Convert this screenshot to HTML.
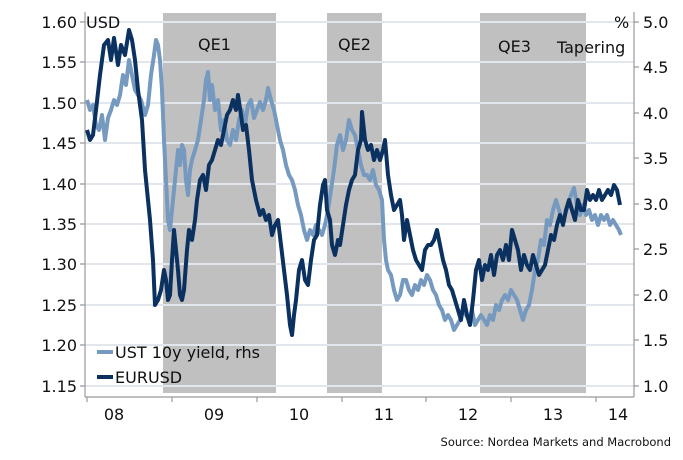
<!DOCTYPE html>
<html><head><meta charset="utf-8"><style>
body{margin:0;background:#fff}
svg{display:block;font-family:"DejaVu Sans","Liberation Sans",sans-serif}
</style></head><body>
<svg width="683" height="460" viewBox="0 0 683 460" xmlns="http://www.w3.org/2000/svg">
<rect x="163" y="13" width="113" height="380" fill="#c0c0c0"/>
<rect x="327" y="13" width="55" height="380" fill="#c0c0c0"/>
<rect x="480" y="13" width="106" height="380" fill="#c0c0c0"/>
<g stroke="#e2e7ee" stroke-width="2">
<line x1="85" x2="634" y1="22" y2="22"/><line x1="85" x2="634" y1="62" y2="62"/><line x1="85" x2="634" y1="103" y2="103"/><line x1="85" x2="634" y1="143" y2="143"/><line x1="85" x2="634" y1="184" y2="184"/><line x1="85" x2="634" y1="224" y2="224"/><line x1="85" x2="634" y1="264" y2="264"/><line x1="85" x2="634" y1="305" y2="305"/><line x1="85" x2="634" y1="345" y2="345"/><line x1="85" x2="634" y1="386" y2="386"/>
</g>
<g stroke="#999" stroke-width="1.2" fill="none">
<line x1="85" y1="12" x2="85" y2="397"/><line x1="634" y1="12" x2="634" y2="397"/><line x1="85" y1="397" x2="634" y2="397"/>
<path d="M80 22h5M80 62h5M80 103h5M80 143h5M80 184h5M80 224h5M80 264h5M80 305h5M80 345h5M80 386h5"/>
<path d="M634 22h5M634 67h5M634 113h5M634 158h5M634 204h5M634 249h5M634 295h5M634 340h5M634 386h5"/>
<path d="M87 397v5M172 397v5M257 397v5M342 397v5M426 397v5M511 397v5M596 397v5"/>
</g>
<g font-size="16" fill="#111" text-anchor="end">
<text x="77" y="28">1.60</text><text x="77" y="68">1.55</text><text x="77" y="109">1.50</text><text x="77" y="149">1.45</text><text x="77" y="190">1.40</text><text x="77" y="230">1.35</text><text x="77" y="270">1.30</text><text x="77" y="311">1.25</text><text x="77" y="351">1.20</text><text x="77" y="392">1.15</text>
</g>
<g font-size="16" fill="#111">
<text x="643" y="28">5.0</text><text x="643" y="73">4.5</text><text x="643" y="119">4.0</text><text x="643" y="164">3.5</text><text x="643" y="210">3.0</text><text x="643" y="255">2.5</text><text x="643" y="301">2.0</text><text x="643" y="346">1.5</text><text x="643" y="392">1.0</text>
<text x="86" y="28">USD</text><text x="614" y="28">%</text>
<text x="198" y="50">QE1</text><text x="338" y="50">QE2</text><text x="498" y="52">QE3</text><text x="557" y="53">Tapering</text>
<text x="114" y="420" text-anchor="middle">08</text><text x="214" y="420" text-anchor="middle">09</text><text x="299" y="420" text-anchor="middle">10</text><text x="384" y="420" text-anchor="middle">11</text><text x="468" y="420" text-anchor="middle">12</text><text x="553" y="420" text-anchor="middle">13</text><text x="618" y="420" text-anchor="middle">14</text>
<text x="115" y="358">UST 10y yield, rhs</text><text x="115" y="383">EURUSD</text>
</g>
<text x="671" y="446" font-size="11.5" fill="#111" text-anchor="end">Source: Nordea Markets and Macrobond</text>
<line x1="97" y1="352" x2="113" y2="352" stroke="#7699c0" stroke-width="4"/>
<line x1="97" y1="377" x2="113" y2="377" stroke="#0b3160" stroke-width="4"/>
<polyline fill="none" stroke="#7699c0" stroke-width="4" stroke-linejoin="round" points="87,100 90,110 93,105 96,125 99,130 102,115 105,140 108,118 111,110 114,100 117,105 120,95 123,75 126,85 129,60 132,75 135,90 138,95 141,100 145,115 148,105 151,75 154,55 156,40 158,45 160,60 162,90 164,140 166,180 168,220 170,230 172,210 174,190 176,170 178,150 180,165 182,145 184,150 186,180 188,195 190,170 192,160 195,150 198,140 201,120 204,100 206,80 208,72 210,100 212,85 215,110 218,100 221,130 224,120 227,140 230,145 233,130 236,140 239,120 242,110 245,125 248,105 251,100 254,118 257,110 260,102 263,110 266,100 268,88 271,100 274,110 277,125 280,140 283,150 286,165 289,175 292,180 295,190 298,205 301,215 304,230 307,240 310,230 313,235 316,225 319,230 322,235 325,225 328,210 331,190 334,170 337,145 340,135 343,150 346,140 349,120 352,130 355,135 358,150 361,165 364,175 367,175 370,180 373,170 376,185 379,190 382,200 384,240 386,260 388,270 391,275 394,290 397,300 400,295 403,280 406,280 409,290 412,295 415,285 418,290 421,280 424,285 427,275 430,280 433,290 436,295 439,305 442,310 445,320 448,315 451,320 454,330 457,325 460,320 463,310 466,315 469,320 472,310 475,325 478,320 481,315 484,320 487,325 490,315 493,320 496,305 499,310 502,300 505,295 508,300 511,290 514,295 517,300 520,310 523,320 526,310 529,305 532,290 535,270 538,260 541,240 544,245 547,220 550,225 553,210 556,200 559,210 562,220 565,215 568,205 571,195 574,188 577,205 580,215 583,205 586,215 589,210 592,220 595,215 598,225 601,215 604,220 607,215 610,225 613,220 616,225 619,230 621,235"/>
<polyline fill="none" stroke="#0b3160" stroke-width="4" stroke-linejoin="round" points="87,130 90,140 93,135 96,110 100,75 104,45 108,40 111,60 114,38 118,65 121,45 125,55 129,30 132,40 135,60 138,90 142,120 145,170 147,190 150,220 153,260 155,305 158,300 161,290 164,270 166,280 168,300 170,295 172,260 174,230 176,250 178,270 180,295 182,300 184,290 187,250 189,230 192,240 195,220 197,200 200,180 203,175 206,190 209,165 212,160 215,150 218,140 221,145 224,130 227,115 230,110 233,100 236,110 238,95 241,115 243,130 246,125 249,150 252,180 256,200 260,215 263,210 266,220 269,215 272,235 275,225 278,220 281,245 284,270 287,295 290,325 292,335 294,315 296,300 299,270 302,260 305,280 308,285 311,260 314,240 317,235 320,205 323,185 325,180 327,210 330,220 332,245 335,255 338,240 340,245 343,225 346,205 349,190 352,180 355,175 358,150 361,140 362,112 365,140 368,150 371,145 374,160 377,150 380,160 383,150 385,140 388,175 391,195 394,210 397,205 400,200 402,215 404,240 407,220 410,235 413,250 416,260 419,265 422,270 425,250 428,245 431,245 434,240 437,230 440,245 443,260 446,270 449,285 452,290 455,300 458,310 461,320 464,300 467,315 470,325 473,300 476,270 479,260 482,280 485,265 488,270 491,255 494,275 497,255 500,250 503,260 506,245 509,260 512,230 515,240 518,250 521,270 524,255 527,265 530,270 533,255 536,265 539,275 542,270 545,265 548,250 551,235 554,240 557,225 560,215 563,225 566,210 569,200 572,210 575,220 578,200 581,210 584,210 587,190 590,200 593,195 596,200 599,190 602,200 605,195 608,190 611,195 614,185 617,190 620,205"/>
</svg>
</body></html>
